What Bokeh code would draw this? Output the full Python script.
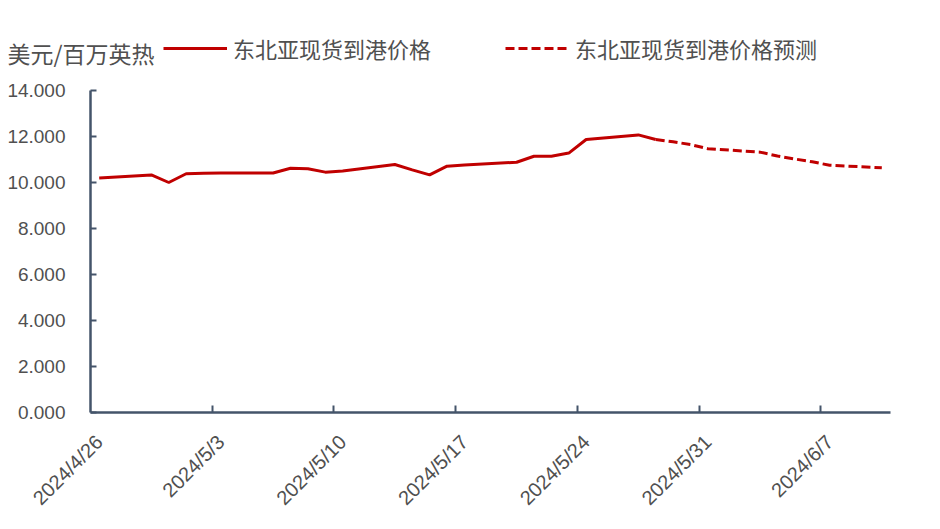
import math
import pandas as pd
from bokeh.plotting import figure
from bokeh.models import (Range1d, LinearAxis, FixedTicker, NumeralTickFormatter,
                          Legend, LegendItem, Label, ColumnDataSource)
from bokeh.embed import file_html
from bokeh.resources import INLINE

# ---------------- data ----------------
start_date = "2024-04-26"
actual_dates = ["2024-04-26", "2024-04-29", "2024-04-30", "2024-05-01", "2024-05-02",
                "2024-05-03", "2024-05-06", "2024-05-07", "2024-05-08", "2024-05-09",
                "2024-05-10", "2024-05-13", "2024-05-14", "2024-05-15", "2024-05-16",
                "2024-05-17", "2024-05-20", "2024-05-21", "2024-05-22", "2024-05-23",
                "2024-05-24", "2024-05-27", "2024-05-28"]
actual_values = [10.20, 10.33, 10.00, 10.38, 10.40,
                 10.41, 10.41, 10.62, 10.60, 10.45,
                 10.50, 10.78, 10.55, 10.33, 10.71,
                 10.76, 10.88, 11.14, 11.14, 11.28,
                 11.87, 12.07, 11.87]
forecast_dates = ["2024-05-28", "2024-05-29", "2024-05-30", "2024-05-31", "2024-06-03",
                  "2024-06-04", "2024-06-05", "2024-06-06", "2024-06-07", "2024-06-10"]
forecast_values = [11.87, 11.77, 11.65, 11.47, 11.32,
                   11.15, 11.02, 10.90, 10.75, 10.64]
end_date = "2024-06-10"
tick_labels = ["2024/4/26", "2024/5/3", "2024/5/10", "2024/5/17",
               "2024/5/24", "2024/5/31", "2024/6/7"]
y_ticks = [0, 2, 4, 6, 8, 10, 12, 14]
y_min, y_max = 0, 14
unit_text = "美元/百万英热"
series_names = ["东北亚现货到港价格", "东北亚现货到港价格预测"]

# ---------------- helpers ----------------
t0 = pd.Timestamp(start_date)
def day_idx(ds):
    return [(pd.Timestamp(d) - t0).days for d in ds]

ax_x = day_idx(actual_dates)
fc_x = day_idx(forecast_dates)
n_days = (pd.Timestamp(end_date) - t0).days
label_pos = [7 * i for i in range(len(tick_labels))]
tick_pos = [q - 0.5 for q in label_pos[1:]]

RED = "#C00000"
AXIS = "#44546A"
TXT = "#505050"
CJK = "Noto Sans CJK SC"
NUM = "Liberation Sans"

# layout in pixels: the frame fills the canvas, the plot box sits inside it
W, H = 932, 521
PL, PR, PT, PB = 90, 890, 90, 412          # plot box edges (px)
x_lo, x_hi = -0.5, n_days + 0.5
sx = (PR - PL) / (x_hi - x_lo)
sy = (PB - PT) / (y_max - y_min)
xr = Range1d(x_lo - PL / sx, x_hi + (W - PR) / sx)
yr = Range1d(y_min - (H - PB) / sy, y_max + PT / sy)

p = figure(width=W, height=H, output_backend="svg", toolbar_location=None,
           x_range=xr, y_range=yr, x_axis_type=None, y_axis_type=None,
           min_border=0, min_border_left=0, min_border_right=0,
           min_border_top=0, min_border_bottom=0)
p.outline_line_color = None
p.xgrid.visible = False
p.ygrid.visible = False

src_a = ColumnDataSource(dict(x=ax_x, y=actual_values))
src_f = ColumnDataSource(dict(x=fc_x, y=forecast_values))
r_f = p.line("x", "y", source=src_f, line_color=RED, line_width=3, line_dash="9 4")
r_a = p.line("x", "y", source=src_a, line_color=RED, line_width=3)

# y axis
yax = LinearAxis(ticker=FixedTicker(ticks=y_ticks), fixed_location=x_lo,
                 bounds=(y_min, y_max),
                 formatter=NumeralTickFormatter(format="0.000"))
yax.axis_line_color = AXIS
yax.axis_line_width = 2.5
yax.major_tick_line_color = AXIS
yax.major_tick_line_width = 2
yax.major_tick_in = 6
yax.major_tick_out = 0
yax.minor_tick_line_color = None
yax.major_label_standoff = 25
yax.major_label_text_font = NUM
yax.major_label_text_font_size = "19px"
yax.major_label_text_color = TXT
p.add_layout(yax, "left")

# x axis: tick marks at day boundaries
xax1 = LinearAxis(ticker=FixedTicker(ticks=tick_pos), fixed_location=y_min,
                  bounds=(x_lo, x_hi))
xax1.axis_line_color = AXIS
xax1.axis_line_width = 2.5
xax1.major_tick_line_color = AXIS
xax1.major_tick_line_width = 2
xax1.major_tick_in = 7
xax1.major_tick_out = 0
xax1.minor_tick_line_color = None
xax1.major_label_text_font_size = "0px"
xax1.major_label_standoff = 0
xax1.major_label_overrides = {t: "" for t in tick_pos}
p.add_layout(xax1, "below")

# x axis: labels centred on days
xax2 = LinearAxis(ticker=FixedTicker(ticks=label_pos), fixed_location=y_min)
xax2.axis_line_color = None
xax2.major_tick_line_color = None
xax2.minor_tick_line_color = None
xax2.major_label_overrides = {lp: lab for lp, lab in zip(label_pos, tick_labels)}
xax2.major_label_orientation = math.pi / 4
xax2.major_label_text_font = NUM
xax2.major_label_text_font_size = "20px"
xax2.major_label_text_color = TXT
xax2.major_label_standoff = 20
p.add_layout(xax2, "below")

legend = Legend(items=[LegendItem(label=series_names[0], renderers=[r_a]),
                       LegendItem(label=series_names[1], renderers=[r_f])],
                location=(163, H - 52 - 12), orientation="horizontal",
                border_line_color=None, background_fill_alpha=0,
                padding=0, margin=0, spacing=74, glyph_width=64, glyph_height=24,
                label_standoff=6, label_height=24,
                label_text_font=CJK, label_text_font_size="22px",
                label_text_color=TXT)
p.add_layout(legend, "center")

unit = Label(x=7, y=H - 52, x_units="screen", y_units="screen", text=unit_text,
             text_font=CJK, text_font_size="23px", text_color=TXT,
             text_baseline="middle", text_align="left")
p.add_layout(unit)

open("out.html", "w").write(file_html(p, INLINE))
